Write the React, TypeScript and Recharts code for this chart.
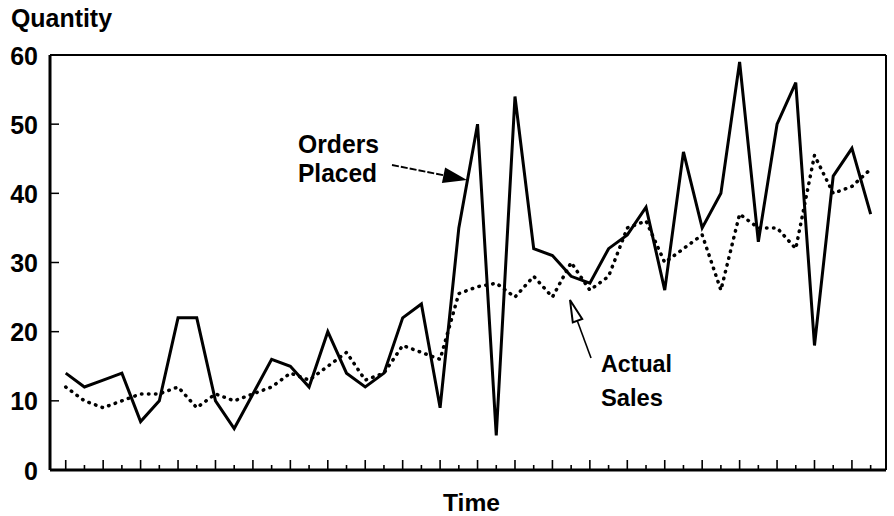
import React from 'react';
import { LineChart, Line, XAxis, YAxis, ReferenceLine } from 'recharts';

const periods: number[] = Array.from({ length: 44 }, (_, i) => i);
const ordersPlaced: number[] = [14, 12, 13, 14, 7, 10, 22, 22, 10, 6, 11, 16, 15, 12, 20, 14, 12, 14, 22, 24, 9, 35, 50, 5, 54, 32, 31, 28, 27, 32, 34, 38, 26, 46, 35, 40, 59, 33, 50, 56, 18, 42.5, 46.5, 37];
const actualSales: number[] = [12, 10, 9, 10, 11, 11, 12, 9, 11, 10, 11, 12, 14, 13, 15, 17, 13, 14, 18, 17, 16, 25.5, 26.5, 27, 25, 28, 25, 30, 26, 28, 35, 36, 30, 32, 34, 26, 37, 35, 35, 32, 45.5, 40, 41, 43.5];
const yTicks: number[] = [0, 10, 20, 30, 40, 50, 60];
const xDomain: [number, number] = [-0.84, 43.82];

const data = periods.map((p, i) => ({ t: p, orders: ordersPlaced[i], sales: actualSales[i] }));

const FONT = '"Liberation Sans", Arial, Helvetica, sans-serif';

const XTick = (props: any) => {
  const { x, y, payload } = props;
  const len = payload.value % 2 === 0 ? 10 : 5;
  return <line x1={x} x2={x} y1={y} y2={y - len} stroke="#000" strokeWidth={1.6} />;
};

const YTick = (props: any) => {
  const { x, y, payload } = props;
  const v = payload.value;
  return (
    <g>
      <text x={x} y={y} dy={9.5} textAnchor="end" fontFamily={FONT} fontWeight="bold" fontSize={25} fill="#000">
        {v}
      </text>
      {v !== 0 && v !== 60 ? <line x1={x + 13} x2={x + 21} y1={y} y2={y} stroke="#000" strokeWidth={1.5} /> : null}
    </g>
  );
};

export default function App() {
  return (
    <div style={{ position: 'absolute', left: 0, top: 0, width: 894, height: 516, background: '#fff' }}>
      <LineChart width={894} height={516} data={data} margin={{ top: 55, right: 8, bottom: 0, left: 0 }}>
        <XAxis
          dataKey="t"
          type="number"
          domain={xDomain}
          ticks={periods}
          interval={0}
          tickSize={0}
          tickMargin={0}
          tickLine={false}
          tick={XTick}
          height={46}
          axisLine={{ stroke: '#000', strokeWidth: 3 }}
          allowDataOverflow
        />
        <YAxis
          type="number"
          domain={[0, 60]}
          ticks={yTicks}
          interval={0}
          width={50}
          tickSize={0}
          tickMargin={12}
          tickLine={false}
          tick={YTick}
          axisLine={{ stroke: '#000', strokeWidth: 3 }}
        />
        <ReferenceLine y={60} stroke="#000" strokeWidth={2} />
        <ReferenceLine x={xDomain[1]} stroke="#000" strokeWidth={2} />
        <Line
          type="linear"
          dataKey="sales"
          stroke="#000"
          strokeWidth={3.5}
          strokeDasharray="0.5 6.5"
          strokeLinecap="round"
          dot={false}
          isAnimationActive={false}
        />
        <Line
          type="linear"
          dataKey="orders"
          stroke="#000"
          strokeWidth={3}
          dot={false}
          isAnimationActive={false}
        />
      </LineChart>
      <svg width={894} height={516} style={{ position: 'absolute', left: 0, top: 0, pointerEvents: 'none' }}>
        <g fontFamily={FONT} fontWeight="bold" fill="#000">
          <text x={11} y={26.5} fontSize={25} textLength={101} lengthAdjust="spacingAndGlyphs">Quantity</text>
          <text x={298} y={153} fontSize={25} textLength={81} lengthAdjust="spacingAndGlyphs">Orders</text>
          <text x={298} y={182} fontSize={25} textLength={79} lengthAdjust="spacingAndGlyphs">Placed</text>
          <text x={601} y={372} fontSize={24} textLength={71} lengthAdjust="spacingAndGlyphs">Actual</text>
          <text x={601} y={406} fontSize={24} textLength={62} lengthAdjust="spacingAndGlyphs">Sales</text>
          <text x={443} y={511} fontSize={24} textLength={57} lengthAdjust="spacingAndGlyphs">Time</text>
        </g>
        <line x1={392} y1={165} x2={445} y2={175.5} stroke="#000" strokeWidth={1.8} strokeDasharray="7 2" />
        <polygon points="467,180 445.1,167.5 441.9,183.1" fill="#000" />
        <line x1={591} y1={358} x2={577} y2={320} stroke="#000" strokeWidth={1.6} />
        <polygon points="570,300 582.2,319 572.8,322.4" fill="#fff" stroke="#000" strokeWidth={2} strokeLinejoin="miter" />
      </svg>
    </div>
  );
}
